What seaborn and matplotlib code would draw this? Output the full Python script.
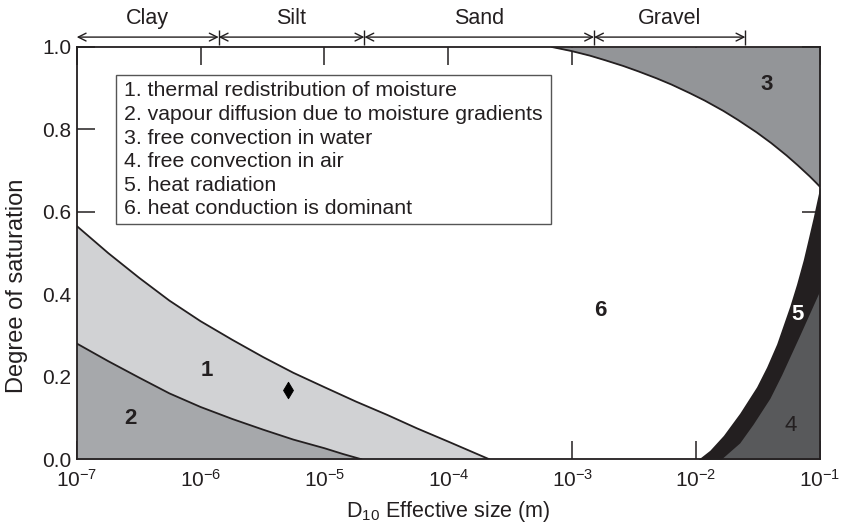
### heat transfer mechanism zones vs grain size and degree of saturation

import numpy as np
import matplotlib.pyplot as plt
import matplotlib.ticker as mticker
from matplotlib.patches import Rectangle
import seaborn as sns

# zone 1 upper boundary (thermal redistribution of moisture)
zone1_x = [1e-7, 1.8e-7, 3.2e-7, 5.6e-7, 1e-6, 1.8e-6, 3.2e-6, 5.6e-6, 1e-5,
           1.8e-5, 3.2e-5, 5.6e-5, 1e-4, 2.15e-4]
zone1_y = [0.566, 0.500, 0.440, 0.385, 0.335, 0.290, 0.248, 0.210, 0.175,
           0.140, 0.108, 0.075, 0.043, 0.0]

# zone 2 upper boundary (vapour diffusion)
zone2_x = [1e-7, 1.8e-7, 3.2e-7, 5.6e-7, 1e-6, 1.8e-6, 3.2e-6, 5.6e-6, 1e-5,
           1.41e-5, 2.0e-5]
zone2_y = [0.281, 0.238, 0.198, 0.160, 0.127, 0.098, 0.072, 0.048, 0.027,
           0.013, 0.0]

# zone 3 lower boundary (free convection in water)
zone3_x = [6.85e-4, 9.93e-4, 1.39e-3, 1.84e-3, 2.58e-3, 3.41e-3, 4.80e-3,
           6.32e-3, 8.91e-3, 1.175e-2, 1.66e-2, 2.18e-2, 3.08e-2, 4.04e-2,
           5.37e-2, 6.62e-2, 8.28e-2, 9.29e-2, 1e-1]
zone3_y = [1.0, 0.990, 0.979, 0.968, 0.954, 0.941, 0.924, 0.909, 0.888,
           0.870, 0.845, 0.823, 0.793, 0.767, 0.737, 0.713, 0.686, 0.671,
           0.661]

# zone 5 left boundary (heat radiation)
zone5_x = [1.04e-2, 1.29e-2, 1.66e-2, 2.25e-2, 3.08e-2, 3.71e-2, 4.47e-2,
           5.71e-2, 6.47e-2, 7.33e-2, 8.04e-2, 8.81e-2, 1e-1]
zone5_y = [0.0, 0.022, 0.058, 0.112, 0.176, 0.224, 0.280, 0.372, 0.425,
           0.484, 0.535, 0.586, 0.662]

# zone 4 left boundary (free convection in air)
zone4_x = [1.585e-2, 2.25e-2, 2.88e-2, 3.94e-2, 4.90e-2, 6.89e-2, 8.71e-2, 1e-1]
zone4_y = [0.0, 0.040, 0.085, 0.148, 0.205, 0.302, 0.370, 0.41]

# measured sample
point_x = [5.07e-6]
point_y = [0.167]

# soil classes along the top
soil_edges = [1e-7, 1.4e-6, 2.1e-5, 1.5e-3, 2.5e-2]
soil_names = ['Clay', 'Silt', 'Sand', 'Gravel']

legend_lines = ['1. thermal redistribution of moisture',
                '2. vapour diffusion due to moisture gradients',
                '3. free convection in water',
                '4. free convection in air',
                '5. heat radiation',
                '6. heat conduction is dominant']

LINE = '#231f20'
C1, C2, C3, C4, C5 = '#d1d2d4', '#a6a8ab', '#939598', '#58595b', '#231f20'

sns.set_style('ticks')
plt.rcParams['font.family'] = ['Liberation Sans', 'DejaVu Sans']
plt.rcParams['mathtext.fontset'] = 'custom'
plt.rcParams['mathtext.rm'] = 'Liberation Sans'
plt.rcParams['mathtext.it'] = 'Liberation Sans:italic'
plt.rcParams['mathtext.bf'] = 'Liberation Sans:bold'

fig, ax = plt.subplots(figsize=(8.43, 5.28), dpi=100)
fig.subplots_adjust(left=0.091, right=0.9727, bottom=0.130, top=0.911)
ax.set_xscale('log')

# zones
ax.fill_between(zone1_x, 0, zone1_y, color=C1, lw=0, zorder=1)
ax.fill_between(zone2_x, 0, zone2_y, color=C2, lw=0, zorder=2)
ax.fill_between(zone3_x, zone3_y, 1, color=C3, lw=0, zorder=1)
ax.fill_betweenx(zone5_y, zone5_x, 0.1, color=C5, lw=0, zorder=2)
ax.fill_betweenx(zone4_y, zone4_x, 0.1, color=C4, lw=0, zorder=3)

for xs, ys in [(zone1_x, zone1_y), (zone2_x, zone2_y), (zone3_x, zone3_y)]:
    sns.lineplot(x=xs, y=ys, color=LINE, lw=1.3, ax=ax, zorder=4,
                 sort=False, estimator=None)

sns.scatterplot(x=point_x, y=point_y, marker='d', s=70, color='black',
                edgecolor='black', ax=ax, zorder=5)

# zone numbers
lab = dict(fontsize=16, ha='center', va='center', zorder=6)
ax.text(1.12e-6, 0.216, '1', fontweight='bold', color=LINE, **lab)
ax.text(2.7e-7, 0.100, '2', fontweight='bold', color=LINE, **lab)
ax.text(3.7e-2, 0.908, '3', fontweight='bold', color=LINE, **lab)
ax.text(5.75e-2, 0.081, '4', color=LINE, **lab)
ax.text(6.6e-2, 0.352, '5', fontweight='bold', color='white', **lab)
ax.text(1.67e-3, 0.360, '6', fontweight='bold', color=LINE, **lab)

# legend box
ax.add_patch(Rectangle((0.053, 0.571), 0.585, 0.361, transform=ax.transAxes,
                       facecolor='white', edgecolor='#555555', lw=1.0, zorder=6))
ax.text(0.0636, 0.917, '\n'.join(legend_lines), transform=ax.transAxes,
        ha='left', va='top', fontsize=15.3, linespacing=1.31, color=LINE, zorder=7)

# soil class arrows
trans = ax.get_xaxis_transform()
for lo, hi, name in zip(soil_edges[:-1], soil_edges[1:], soil_names):
    ax.annotate('', xy=(hi, 1.024), xytext=(lo, 1.024), xycoords=trans,
                textcoords=trans, annotation_clip=False,
                arrowprops=dict(arrowstyle='<->', lw=1.0, color=LINE,
                                shrinkA=0, shrinkB=0, mutation_scale=14))
    ax.text(np.sqrt(lo * hi), 1.07, name, transform=trans, ha='center',
            va='center', fontsize=15.5, color=LINE)
ax.vlines(soil_edges[1:], 1.006, 1.042, transform=trans, colors=LINE,
          lw=1.0, clip_on=False)

# axes
ax.set_xlim(1e-7, 1e-1)
ax.set_ylim(0, 1)
ax.set_xticks([1e-7, 1e-6, 1e-5, 1e-4, 1e-3, 1e-2, 1e-1])
ax.xaxis.set_minor_locator(mticker.NullLocator())
ax.set_yticks([0.0, 0.2, 0.4, 0.6, 0.8, 1.0])
ax.yaxis.set_major_formatter(mticker.FormatStrFormatter('%.1f'))
ax.tick_params(direction='in', length=13, width=1.1, top=True, right=True,
               labelsize=15, color=LINE, labelcolor=LINE)
ax.tick_params(axis='x', pad=7)
ax.tick_params(axis='y', pad=4)
for s in ax.spines.values():
    s.set_color(LINE)
    s.set_linewidth(1.3)
    s.set_zorder(8)

ax.set_xlabel(r'D$_{\mathregular{10}}$ Effective size (m)', fontsize=15.5,
              color=LINE, labelpad=6)
ax.set_ylabel('Degree of saturation', fontsize=17, color=LINE)
ax.yaxis.set_label_coords(-0.066, 0.42)

plt.savefig('out.png', dpi=100)
